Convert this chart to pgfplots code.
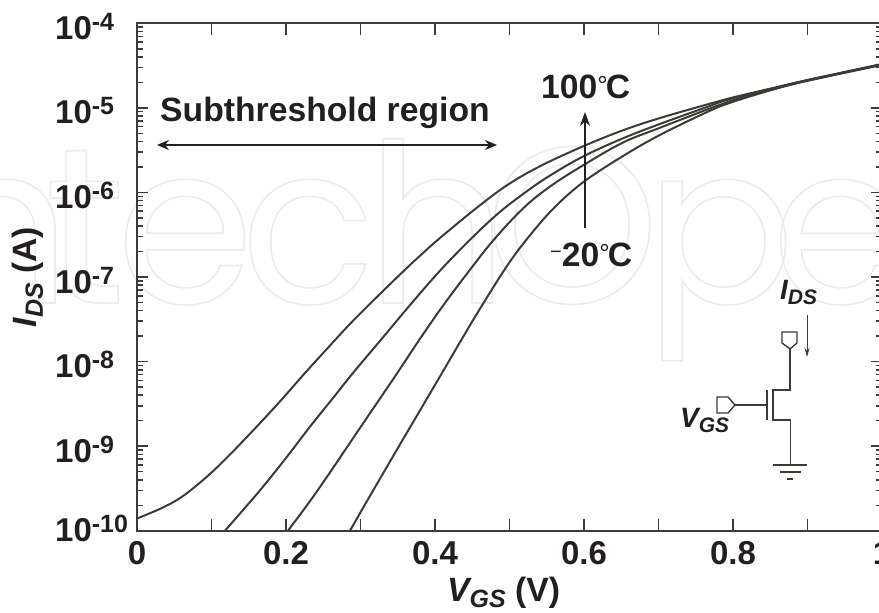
\documentclass[border=0pt]{standalone}
\usepackage{pgfplots}
\usepackage{pgfplotstable}
\usepackage{fontspec}
\setmainfont{Liberation Sans}
\newfontfamily\wmfont{Poppins}
\pgfplotsset{compat=1.18}
\usetikzlibrary{arrows.meta}
\definecolor{ink}{HTML}{3C3C36}
\definecolor{txt}{HTML}{231F20}
\newcommand{\bg}{\fontsize{33}{33}\selectfont\bfseries}
\newcommand{\an}{\fontsize{33.7}{33.7}\selectfont\bfseries}
\newcommand{\sm}{\fontsize{25}{25}\selectfont\bfseries}
\newcommand{\pw}[1]{10\raisebox{9pt}{\sm #1}}
\newcommand{\sub}[1]{\raisebox{-6pt}{\fontsize{25}{25}\selectfont\bfseries\itshape #1}}
\newcommand{\wm}[2]{\node[anchor=base,inner sep=0pt] at (#1pt,310pt) {\wmfont\fontsize{222}{222}\selectfont\special{pdf:code 1 Tr 1.6 w 0.92 G}#2\special{pdf:code 0 Tr 1 w 0 G}};}
\newcommand{\dgr}{\raisebox{4pt}{\fontsize{26}{26}\selectfont\mdseries°}}
\pgfplotstableread{
v e
0.0000 -9.856
0.0349 -9.725
0.0617 -9.590
0.0940 -9.360
0.1208 -9.135
0.1423 -8.940
0.1691 -8.690
0.1960 -8.431
0.2255 -8.135
0.2591 -7.810
0.2886 -7.530
0.3262 -7.200
0.3638 -6.880
0.3973 -6.610
0.4242 -6.410
0.4577 -6.170
0.4966 -5.915
0.5409 -5.690
0.5987 -5.455
0.6523 -5.265
0.7020 -5.120
0.7651 -4.960
0.7960 -4.885
0.8537 -4.765
0.8993 -4.672
0.9436 -4.588
1.0000 -4.480
}\curveA
\pgfplotstableread{
v e
0.1181 -10.000
0.1423 -9.756
0.1691 -9.480
0.2013 -9.125
0.2322 -8.770
0.2631 -8.431
0.2899 -8.135
0.3262 -7.755
0.3705 -7.290
0.4094 -6.900
0.4510 -6.525
0.4872 -6.230
0.5235 -5.985
0.5544 -5.800
0.5987 -5.575
0.6523 -5.360
0.7020 -5.190
0.7651 -4.990
0.7960 -4.895
0.8537 -4.770
0.8993 -4.673
1.0000 -4.485
}\curveB
\pgfplotstableread{
v e
0.2027 -10.000
0.2322 -9.650
0.2591 -9.310
0.2859 -8.960
0.3128 -8.610
0.3490 -8.140
0.3799 -7.730
0.4107 -7.340
0.4430 -6.960
0.4779 -6.570
0.5181 -6.190
0.5544 -5.930
0.5987 -5.680
0.6523 -5.410
0.7020 -5.235
0.7651 -5.020
0.7960 -4.920
0.8537 -4.777
0.8993 -4.677
1.0000 -4.488
}\curveC
\pgfplotstableread{
v e
0.2859 -10.000
0.3034 -9.730
0.3262 -9.385
0.3530 -8.980
0.4094 -8.135
0.4336 -7.770
0.4604 -7.375
0.4966 -6.870
0.5235 -6.550
0.5584 -6.195
0.5987 -5.880
0.6523 -5.570
0.7020 -5.320
0.7651 -5.050
0.7960 -4.940
0.8537 -4.784
0.8993 -4.682
1.0000 -4.492
}\curveD
\begin{document}
\begin{tikzpicture}
\useasboundingbox (0pt,0pt) rectangle (879pt,613pt);
% watermark
\wm{0}{n}\wm{85}{t}\wm{185}{e}\wm{308}{c}\wm{437}{h}\wm{572}{O}\wm{720}{p}\wm{840}{e}
\begin{axis}[
  at={(137pt,82.3pt)},anchor=south west,
  scale only axis,width=745pt,height=507.4pt,
  xmin=0,xmax=1,ymin=1e-10,ymax=1e-4,ymode=log,
  axis line style={ink,line width=1.8pt},
  every tick/.style={ink,line width=1.5pt},
  tick align=inside,
  major tick length=11.5pt,minor tick length=6pt,
  xtick={0,0.1,0.2,0.3,0.4,0.5,0.6,0.7,0.8,0.9,1},
  xticklabels={0,,0.2,,0.4,,0.6,,0.8,,1},
  ytick={1e-10,1e-9,1e-8,1e-7,1e-6,1e-5,1e-4},
  yticklabels={\raisebox{5pt}{\pw{-10}},\pw{-9},\pw{-8},\pw{-7},\pw{-6},\pw{-5},\pw{-4}},
  minor ytick={2e-10,3e-10,4e-10,5e-10,6e-10,7e-10,8e-10,9e-10,2e-9,3e-9,4e-9,5e-9,6e-9,7e-9,8e-9,9e-9,2e-8,3e-8,4e-8,5e-8,6e-8,7e-8,8e-8,9e-8,2e-7,3e-7,4e-7,5e-7,6e-7,7e-7,8e-7,9e-7,2e-6,3e-6,4e-6,5e-6,6e-6,7e-6,8e-6,9e-6,2e-5,3e-5,4e-5,5e-5,6e-5,7e-5,8e-5,9e-5},
  xticklabel style={font=\bg,text=txt,inner sep=0pt,anchor=base,yshift=-34pt},
  yticklabel style={font=\bg,text=txt,inner sep=0pt,anchor=base west,xshift=-82pt,yshift=-16pt},
  xlabel={\an\itshape V\sub{GS}\upshape\ (V)},
  ylabel={\an\itshape I\sub{DS}\upshape\ (A)},
  xlabel style={text=txt,at={(axis description cs:0.492,0)},anchor=base,yshift=-71pt},
  ylabel style={text=txt,at={(axis description cs:-0.146,0.5)},anchor=center},
]
\addplot[ink,line width=2pt,smooth,tension=0.6] table[x=v,y expr=10^\thisrow{e}] {\curveA};
\addplot[ink,line width=2pt,smooth,tension=0.6] table[x=v,y expr=10^\thisrow{e}] {\curveB};
\addplot[ink,line width=2pt,smooth,tension=0.6] table[x=v,y expr=10^\thisrow{e}] {\curveC};
\addplot[ink,line width=2pt,smooth,tension=0.6] table[x=v,y expr=10^\thisrow{e}] {\curveD};
\end{axis}
\begin{scope}[shift={(0pt,613pt)},y=-1pt,x=1pt]
\node[anchor=base west,inner sep=0pt,text=txt] at (160,122) {\an Subthreshold region};
\draw[{Stealth[length=12pt,width=10pt]}-{Stealth[length=12pt,width=10pt]},txt,line width=1.5pt] (157,145) -- (497,145);
\node[anchor=base west,inner sep=0pt,text=txt] at (541,99) {\an 100\dgr\hspace{-2pt}C};
\draw[-{Stealth[length=14pt,width=10pt]},txt,line width=1.6pt] (585,228) -- (585,112);
\node[anchor=base west,inner sep=0pt,text=txt] at (550,267) {{\fontsize{20}{20}\selectfont\mdseries\raisebox{8pt}{−}}\an 20\dgr\hspace{-2pt}C};
% circuit
\begin{scope}[ink,line width=1.4pt]
\draw[line width=1pt,-{Stealth[length=9pt,width=5pt]}] (807,315) -- (807,357);
\draw[line join=miter] (782,332) -- (797,332) -- (797,343) -- (790,349) -- (782,343) -- cycle;
\draw (790,349) -- (790,390) -- (773,390) -- (773,420) -- (790.5,420) -- (790.5,464);
\draw (767,390) -- (767,420);
\draw (735,405) -- (767,405);
\draw (717,397) -- (728,397) -- (735,405) -- (728,413) -- (717,413) -- cycle;
\draw (773,465) -- (807,465);
\draw (780,472) -- (801,472);
\draw (787,479) -- (793,479);
\end{scope}
\node[anchor=base west,inner sep=0pt,text=txt] at (780,300) {\fontsize{28}{28}\selectfont\bfseries\itshape I\raisebox{-5pt}{\fontsize{21}{21}\selectfont DS}};
\node[anchor=base west,inner sep=0pt,text=txt] at (680,428) {\fontsize{28}{28}\selectfont\bfseries\itshape V\raisebox{-5pt}{\fontsize{21}{21}\selectfont GS}};
\end{scope}
\end{tikzpicture}
\end{document}
